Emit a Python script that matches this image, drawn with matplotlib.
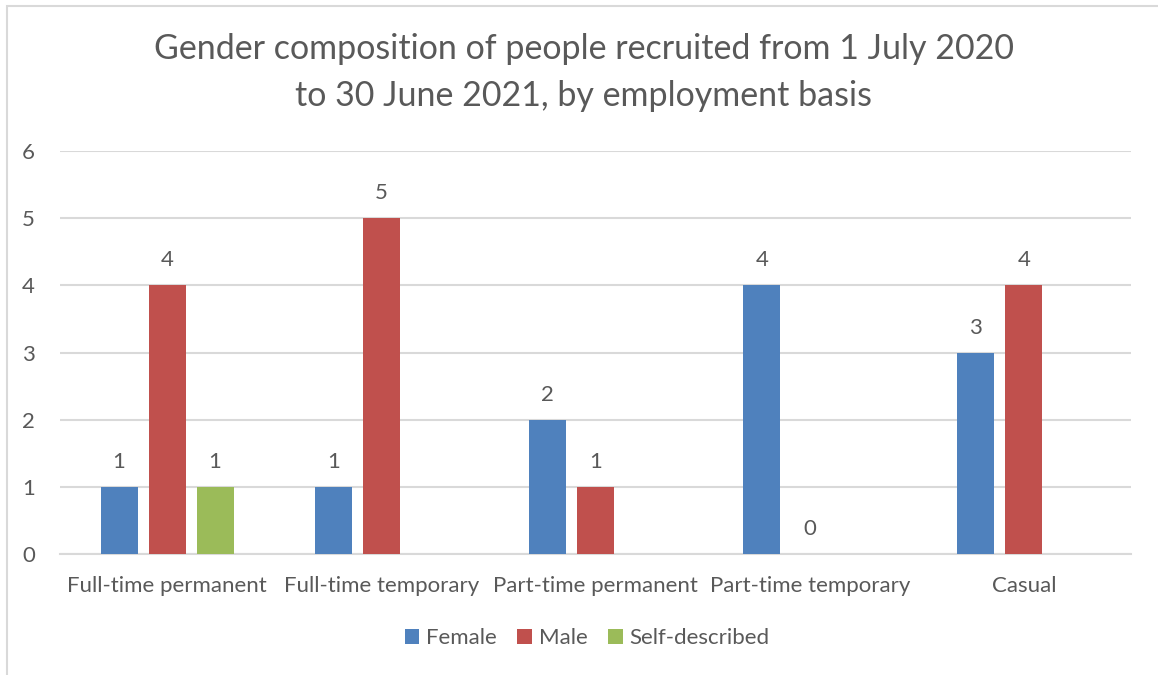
import matplotlib.pyplot as plt
import numpy as np
from matplotlib.patches import Rectangle

categories = ["Full-time permanent", "Full-time temporary", "Part-time permanent",
              "Part-time temporary", "Casual"]
female = [1, 1, 2, 4, 3]
male = [4, 5, 1, 0, 4]
self_described = [1, None, None, None, None]

series = [("Female", female, "#4F81BD"),
          ("Male", male, "#C0504D"),
          ("Self-described", self_described, "#9BBB59")]

text_col = "#595959"
plt.rcParams['font.family'] = ['Lato', 'DejaVu Sans']

fig = plt.figure(figsize=(11.58, 6.75), dpi=100)
# chart frame (runs off the right and bottom edge)
fig.patches.append(Rectangle((7 / 1158, -0.05), 1.2, 1 - 6 / 675 + 0.05,
                             transform=fig.transFigure, fill=False,
                             edgecolor="#d9d9d9", linewidth=1.5))

ax = fig.add_axes([60 / 1158, 1 - 554 / 675, 1071 / 1158, 403 / 675])

x = np.arange(len(categories))
width = 0.173
gap = 0.224
for i, (name, vals, col) in enumerate(series):
    pos = x + (i - 1) * gap
    h = [v if v is not None else 0 for v in vals]
    ax.bar(pos, h, width, color=col, label=name, zorder=3)
    for p, v in zip(pos, vals):
        if v is None:
            continue
        ax.annotate(str(v), (p, v), xytext=(0, 18), textcoords="offset points",
                    ha="center", va="center", fontsize=16, color=text_col)

ax.set_xlim(-0.5, len(categories) - 0.5)
ax.set_ylim(0, 6)
ax.set_yticks(range(0, 7))
ax.grid(axis="y", color="#d9d9d9", linewidth=1.5, zorder=0)
ax.set_axisbelow(True)
for s in ["top", "right", "left"]:
    ax.spines[s].set_visible(False)
ax.spines["bottom"].set_color("#d9d9d9")
ax.spines["bottom"].set_linewidth(1.5)
ax.set_xticks(x)
ax.set_xticklabels(categories)
ax.tick_params(axis="both", length=0, labelsize=16, colors=text_col)
ax.tick_params(axis="x", pad=16)
ax.tick_params(axis="y", pad=18)

fig.text(0.504, 1 - 72.5 / 675,
         "Gender composition of people recruited from 1 July 2020\nto 30 June 2021, by employment basis",
         ha="center", va="center", fontsize=24.5, color=text_col, linespacing=1.6)

fig.legend(loc="center", bbox_to_anchor=(0.507, 1 - 638 / 675), ncol=3,
           frameon=False, fontsize=16, handlelength=0.65, handleheight=0.65,
           handletextpad=0.3, columnspacing=0.95, labelcolor=text_col)

fig.savefig("out.png", dpi=100)
